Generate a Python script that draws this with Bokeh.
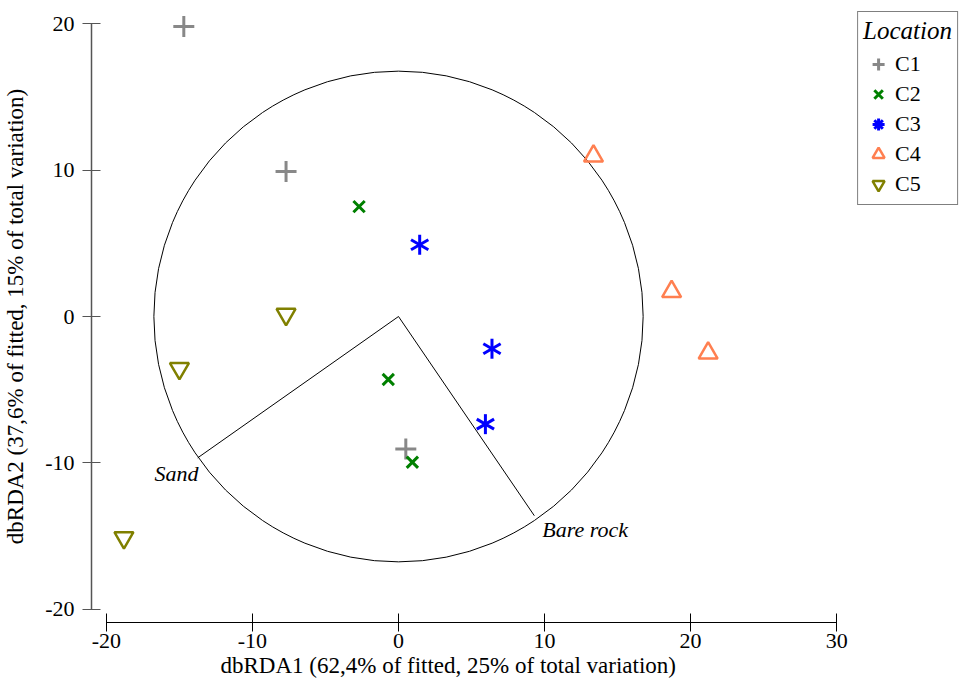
import math
from bokeh.plotting import figure
from bokeh.models import FixedTicker, Legend, LegendItem, Label, Title, ColumnDataSource
from bokeh.embed import file_html
from bokeh.resources import INLINE

# data
groups = ["C1", "C2", "C3", "C4", "C5"]
c1_x = [-14.7, -7.7, 0.5]
c1_y = [19.8, 9.9, -9.05]
c2_x = [-2.7, -0.7, 0.95]
c2_y = [7.5, -4.3, -9.95]
c3_x = [1.45, 6.4, 5.95]
c3_y = [4.9, -2.2, -7.35]
c4_x = [13.35, 18.7, 21.2]
c4_y = [10.95, 1.7, -2.5]
c5_x = [-7.7, -15.0, -18.8]
c5_y = [0.15, -3.55, -15.1]
vector_names = ["Sand", "Bare rock"]
vector_x = [-13.75, 9.3]
vector_y = [-9.65, -13.6]
circle_radius = 16.75
x_ticks = [-20, -10, 0, 10, 20, 30]
y_ticks = [-20, -10, 0, 10, 20]
x_title = "dbRDA1 (62,4% of fitted, 25% of total variation)"
y_title = "dbRDA2 (37,6% of fitted, 15% of total variation)"

FONT = "Liberation Serif"

p = figure(width=959, height=681, x_range=(-21.02, 38.41), y_range=(-20.89, 20.89),
           output_backend="svg", toolbar_location=None,
           min_border_left=89, min_border_top=10, min_border_bottom=59, min_border_right=0)
p.outline_line_color = None
p.grid.visible = False
p.background_fill_color = "white"

p.xaxis.bounds = (-20, 30)
p.yaxis.bounds = (-20, 20)
p.xaxis.ticker = FixedTicker(ticks=x_ticks)
p.yaxis.ticker = FixedTicker(ticks=y_ticks)
p.xaxis.major_label_overrides = {t: str(t) for t in x_ticks}
p.yaxis.major_label_overrides = {t: str(t) for t in y_ticks}
for ax in (p.xaxis, p.yaxis):
    ax.minor_tick_line_color = None
    ax.major_tick_in = 9
    ax.major_tick_out = 9
    ax.major_label_text_font = FONT
    ax.major_label_text_font_size = "22px"
    ax.major_label_text_color = "black"
    ax.axis_label_text_font = FONT
    ax.axis_label_text_font_style = "normal"
    ax.axis_label_text_font_size = "23px"
    ax.axis_label_text_color = "black"
p.xaxis.axis_line_color = "black"
p.xaxis.major_tick_line_color = "black"
p.yaxis.axis_line_color = "#555555"
p.yaxis.major_tick_line_color = "#555555"
p.yaxis.axis_line_width = 1.5
p.yaxis.major_tick_line_width = 1.2
p.xaxis.major_label_standoff = 2
p.yaxis.major_label_standoff = 8
p.yaxis.axis_label_standoff = 14
p.yaxis.axis_label = y_title

xt = Title(text=x_title, align="left", offset=129, standoff=0, text_font=FONT,
           text_font_size="23px", text_font_style="normal", text_color="black")
p.add_layout(xt, "below")

# circle and vectors
p.ellipse(x=0, y=0, width=2 * circle_radius, height=2 * circle_radius,
          fill_color=None, line_color="black", line_width=1)
p.segment(x0=[0, 0], y0=[0, 0], x1=vector_x, y1=vector_y, line_color="black", line_width=1)
p.add_layout(Label(x=vector_x[0] + 0.05, y=vector_y[0] - 1.05, text=vector_names[0],
                   text_align="right", text_baseline="middle", text_font=FONT, text_color="black",
                   text_font_style="italic", text_font_size="22px"))
p.add_layout(Label(x=vector_x[1] + 0.55, y=vector_y[1] - 0.95, text=vector_names[1],
                   text_align="left", text_baseline="middle", text_font=FONT, text_color="black",
                   text_font_style="italic", text_font_size="22px"))

r1 = p.scatter(c1_x, c1_y, marker="cross", size=21, line_color="#888888", line_width=3)
r2 = p.scatter(c2_x, c2_y, marker="x", size=16, line_color="#008000", line_width=3)
src3 = ColumnDataSource(data=dict(x=c3_x, y=c3_y))
for a in (math.pi / 2, math.pi / 6, 5 * math.pi / 6):
    p.scatter("x", "y", source=src3, marker="dash", size=20, angle=a, line_color="#0000ff", line_width=3)
# legend symbol for C3 (zero size in the plot; the legend sizes it itself)
r3 = p.scatter("x", "y", source=src3, marker="asterisk", size=0, line_color="#0000ff", line_width=3)
r4 = p.scatter(c4_x, c4_y, marker="triangle", size=19, line_color="#ff7f50", fill_color=None, line_width=2.5)
r5 = p.scatter(c5_x, c5_y, marker="inverted_triangle", size=19, line_color="#808000", fill_color=None, line_width=2.5)

legend = Legend(items=[LegendItem(label=g, renderers=[r]) for g, r in zip(groups, [r1, r2, r3, r4, r5])],
                location="top_right", title="Location")
legend.title_text_font = FONT
legend.title_text_font_style = "italic"
legend.title_text_font_size = "25px"
legend.title_text_color = "black"
legend.title_standoff = 4
legend.label_text_font = FONT
legend.label_text_font_size = "22px"
legend.label_text_color = "black"
legend.label_height = 30
legend.glyph_height = 30
legend.glyph_width = 30
legend.spacing = 0
legend.label_standoff = 2
legend.padding = 5
legend.margin = 1
legend.border_line_color = "black"
legend.border_line_width = 1
legend.background_fill_color = "white"
legend.background_fill_alpha = 1
p.add_layout(legend)

open("out.html", "w").write(file_html(p, INLINE))
